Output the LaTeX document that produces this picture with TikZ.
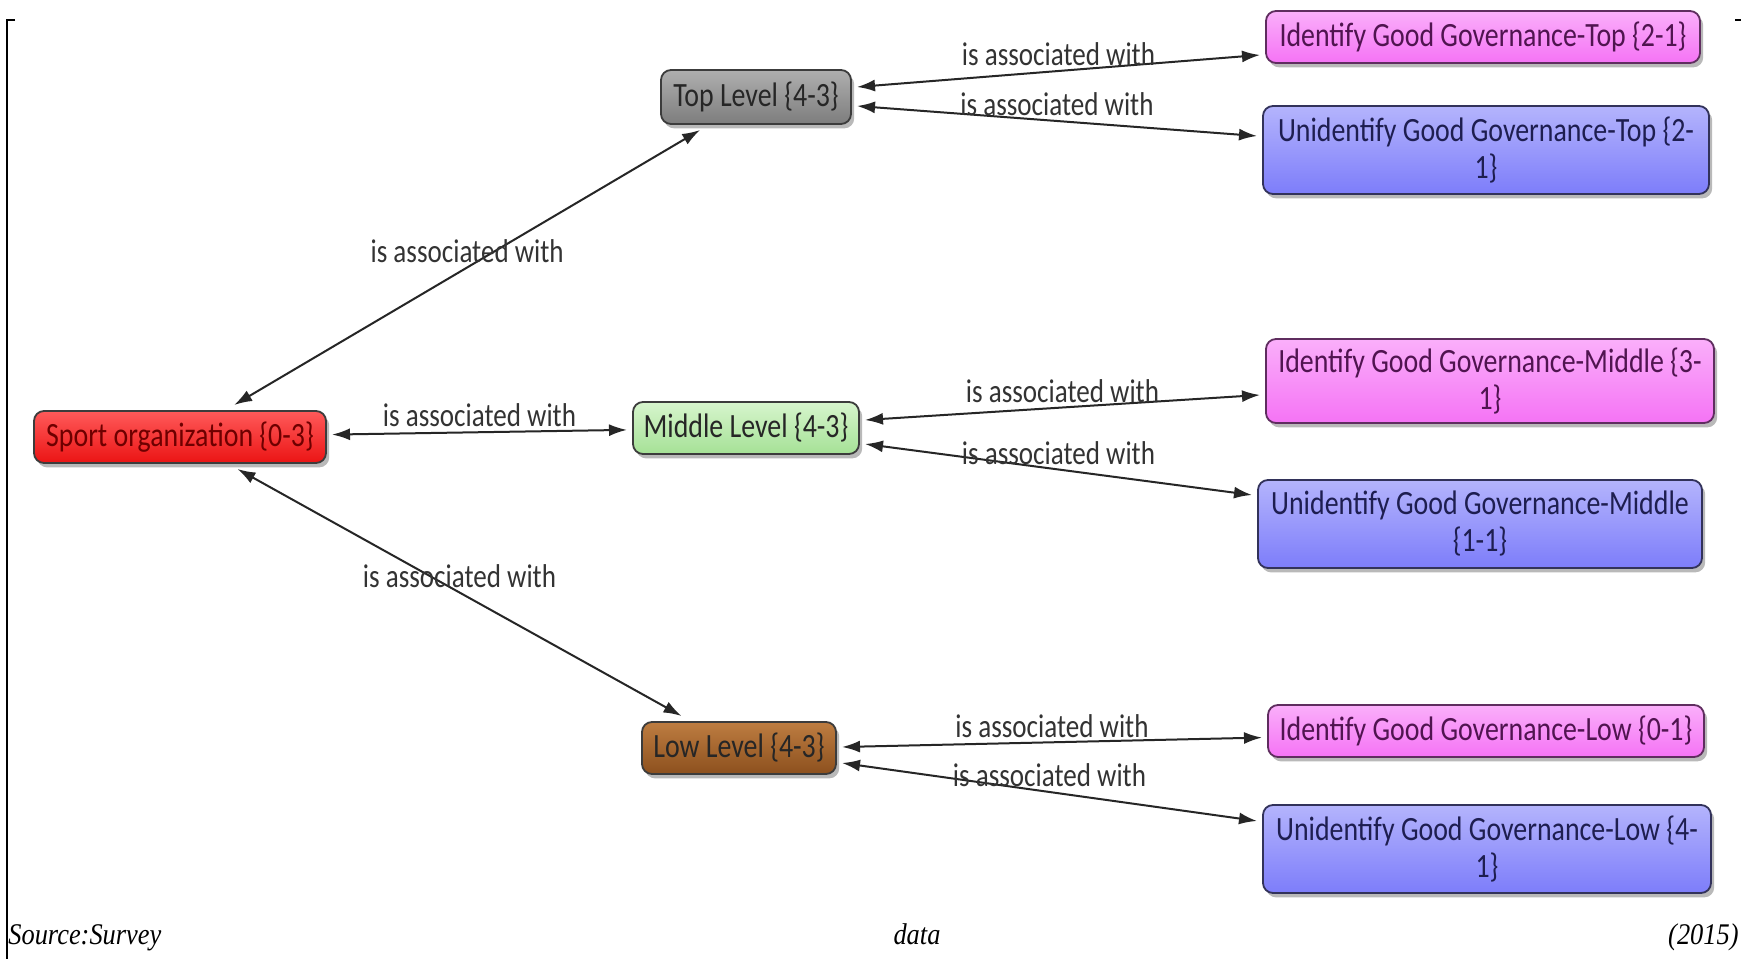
\documentclass[tikz,border=0pt]{standalone}
\usepackage{fontspec}
\setmainfont{Carlito}[FakeStretch=0.82]
\newfontfamily\srcfont{Liberation Serif}[FakeStretch=0.88]
\usepackage{tikz}
\usetikzlibrary{positioning, shadows, calc, arrows.meta}

\tikzset{
  levelbox/.style={draw=boxLine, line width=0.9pt, rounded corners=5pt, align=center,
    inner sep=2pt, outer sep=3pt, minimum height=26pt,
    font=\fontsize{17}{18.5}\selectfont,
    drop shadow={shadow xshift=1.6pt, shadow yshift=-2.2pt, opacity=0.55}},
  assoc/.style={{Latex[length=9pt,width=6pt]}-{Latex[length=9pt,width=6pt]}, line width=1pt, draw=black!85},
  assoclabel/.style={above=1pt, inner sep=1pt, text=black!80, font=\fontsize{16.5}{18}\selectfont},
}

\begin{document}
\begin{tikzpicture}[x=0.5pt,y=0.5pt]
\definecolor{boxLine}{RGB}{60,60,60}
\definecolor{sportTop}{RGB}{255,90,90}
\definecolor{sportBot}{RGB}{235,20,20}
\definecolor{sportText}{RGB}{110,0,0}
\definecolor{grayTop}{RGB}{175,175,175}
\definecolor{grayBot}{RGB}{125,125,125}
\definecolor{greenTop}{RGB}{215,245,205}
\definecolor{greenBot}{RGB}{165,225,150}
\definecolor{brownTop}{RGB}{190,125,65}
\definecolor{brownBot}{RGB}{140,80,30}
\definecolor{identTopC}{RGB}{250,175,250}
\definecolor{identBotC}{RGB}{245,115,245}
\definecolor{identLine}{RGB}{95,45,95}
\definecolor{identText}{RGB}{80,20,80}
\definecolor{unidTopC}{RGB}{180,180,252}
\definecolor{unidBotC}{RGB}{125,125,250}
\definecolor{unidLine}{RGB}{50,50,90}
\definecolor{unidText}{RGB}{30,30,80}

\path[use as bounding box,fill=white] (0,0) rectangle (1741,959);

\draw[line width=1.3pt] (15,939) -- (7,939) -- (7,0);
\draw[line width=1.3pt] (1735,939) -- (1741,939);

\node[levelbox, top color=sportTop, bottom color=sportBot, text=sportText, minimum width=146pt] (sport) at (180,522) {Sport organization {\{}0-3{\}}};
\node[levelbox, top color=grayTop, bottom color=grayBot, text=black!85, minimum width=95pt, minimum height=27pt] (toplevel) at (756,862) {Top Level {\{}4-3{\}}};
\node[levelbox, top color=greenTop, bottom color=greenBot, text=black!85, minimum width=113pt] (midlevel) at (746,531) {Middle Level {\{}4-3{\}}};
\node[levelbox, top color=brownTop, bottom color=brownBot, text=black!85, minimum width=97pt] (lowlevel) at (739,211) {Low Level {\{}4-3{\}}};

\node[levelbox, draw=identLine, top color=identTopC, bottom color=identBotC, text=identText, minimum width=217pt] (identtop) at (1483,922) {Identify Good Governance-Top {\{}2-1{\}}};
\node[levelbox, draw=unidLine, top color=unidTopC, bottom color=unidBotC, text=unidText, minimum width=223pt, minimum height=44pt] (unidtop) at (1486,809) {Unidentify Good Governance-Top {\{}2-\\1{\}}};
\node[levelbox, draw=identLine, top color=identTopC, bottom color=identBotC, text=identText, minimum width=224pt, minimum height=42pt] (identmid) at (1490,578) {Identify Good Governance-Middle {\{}3-\\1{\}}};
\node[levelbox, draw=unidLine, top color=unidTopC, bottom color=unidBotC, text=unidText, minimum width=222pt, minimum height=44pt] (unidmid) at (1480,435) {Unidentify Good Governance-Middle\\{\{}1-1{\}}};
\node[levelbox, draw=identLine, top color=identTopC, bottom color=identBotC, text=identText, minimum width=218pt] (identlow) at (1486,228) {Identify Good Governance-Low {\{}0-1{\}}};
\node[levelbox, draw=unidLine, top color=unidTopC, bottom color=unidBotC, text=unidText, minimum width=224pt, minimum height=44pt] (unidlow) at (1487,110) {Unidentify Good Governance-Low {\{}4-\\1{\}}};

\draw[assoc] (sport) -- node[assoclabel] {is associated with} (toplevel);
\draw[assoc] (sport) -- node[assoclabel] {is associated with} (midlevel);
\draw[assoc] (sport) -- node[assoclabel] {is associated with} (lowlevel);

\draw[assoc] ([yshift=5pt]toplevel.east) -- node[assoclabel] {is associated with} ([yshift=-9pt]identtop.west);
\draw[assoc] ([yshift=-4.5pt]toplevel.east) -- node[assoclabel] {is associated with} ([yshift=7pt]unidtop.west);
\draw[assoc] ([yshift=4pt]midlevel.east) -- node[assoclabel] {is associated with} ([yshift=-7pt]identmid.west);
\draw[assoc] ([yshift=-8pt]midlevel.east) -- node[assoclabel] {is associated with} ([yshift=14.5pt]unidmid.west);
\draw[assoc] ([yshift=0.5pt]lowlevel.east) -- node[assoclabel] {is associated with} ([yshift=-3.3pt]identlow.west);
\draw[assoc] ([yshift=-7.5pt]lowlevel.east) -- node[assoclabel] {is associated with} ([yshift=14pt]unidlow.west);

\node[anchor=base west, inner sep=0pt, font=\srcfont\itshape\fontsize{15}{17}\selectfont] (srcleft) at (8,15) {Source:Survey};
\node[anchor=base, inner sep=0pt, font=\srcfont\itshape\fontsize{15}{17}\selectfont] (srcmid) at (917,15) {data};
\node[anchor=base east, inner sep=0pt, font=\srcfont\itshape\fontsize{15}{17}\selectfont] (srcright) at (1739,15) {(2015)};
\end{tikzpicture}
\end{document}
